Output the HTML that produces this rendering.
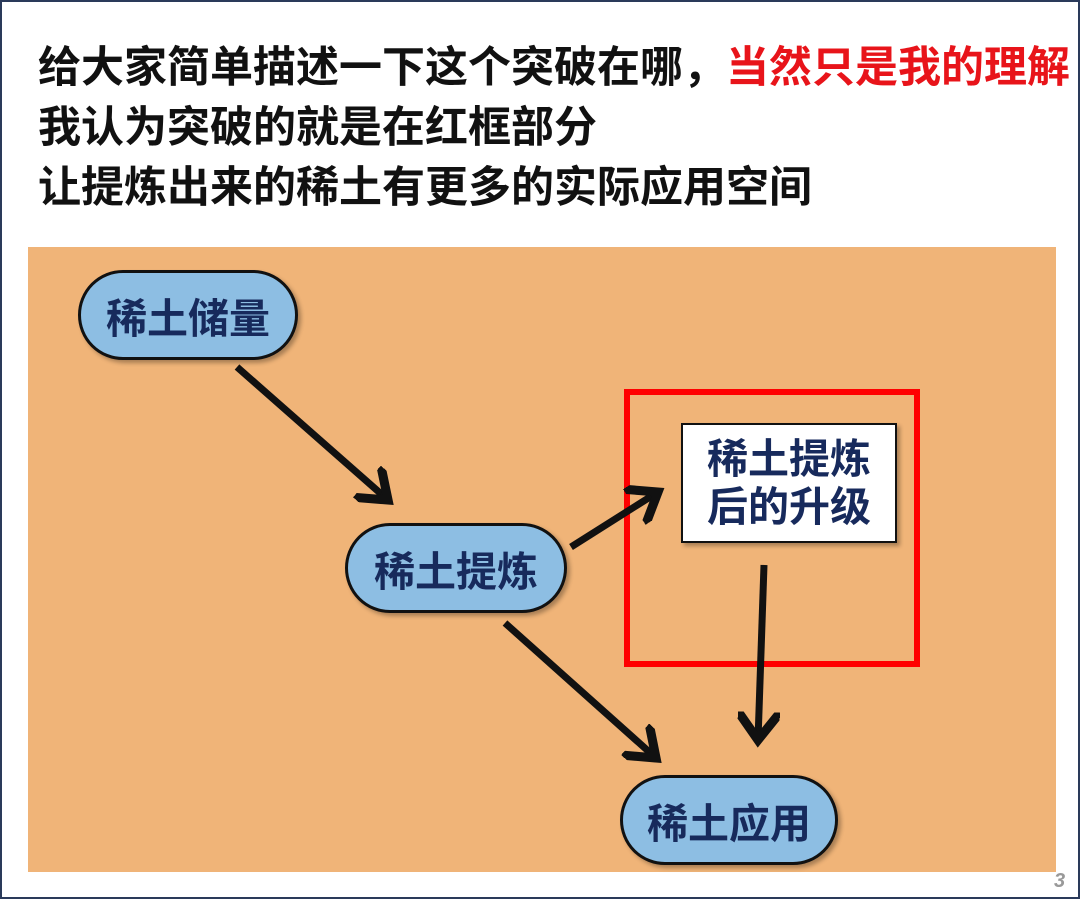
<!DOCTYPE html>
<html><head><meta charset="utf-8"><style>
html,body{margin:0;padding:0}
body{width:1080px;height:899px;position:relative;background:#fff;overflow:hidden;font-family:"Liberation Sans","Noto Sans CJK SC",sans-serif}
.frame{position:absolute;left:0;top:0;width:1076px;height:895px;border:2px solid #2a3a5a}
.t{position:absolute;left:38px;font-size:43px;font-weight:bold;color:#111;white-space:nowrap;line-height:60px}
.bg{position:absolute;left:28px;top:247px;width:1028px;height:625px;background:#F0B478}
.pill{position:absolute;background:#8DBEE3;border:3px solid #111;border-radius:45px;box-sizing:border-box;display:flex;align-items:center;justify-content:center;font-size:41px;font-weight:bold;color:#172a5c;box-shadow:3px 3px 4px rgba(0,0,0,.3)}
.wb{position:absolute;left:681px;top:423px;width:216px;height:120px;background:#fff;border:2px solid #111;box-sizing:border-box;display:flex;align-items:center;justify-content:center;text-align:center;font-size:41px;font-weight:bold;color:#172a5c;line-height:48px;box-shadow:3px 3px 4px rgba(0,0,0,.3)}
.red{position:absolute;left:624px;top:389px;width:296px;height:278px;border:6px solid #f00;box-sizing:border-box}
</style></head><body>
<div class="frame"></div>
<div class="t" style="top:38px">给大家简单描述一下这个突破在哪，<span style="color:#e8141a">当然只是我的理解</span></div>
<div class="t" style="top:98px">我认为突破的就是在红框部分</div>
<div class="t" style="top:158px">让提炼出来的稀土有更多的实际应用空间</div>
<div class="bg"></div>
<div class="red"></div>
<svg style="position:absolute;left:0;top:0" width="1080" height="899">
<defs><marker id="a" markerWidth="6" markerHeight="6" refX="4" refY="3" orient="auto" markerUnits="strokeWidth"><path d="M0,0 L4,3 L0,6" fill="none" stroke="#111" stroke-width="1.3"/></marker></defs>
<g stroke="#111" stroke-width="7" fill="none" marker-end="url(#a)">
<line x1="237" y1="367" x2="388" y2="500"/>
<line x1="571" y1="547" x2="658" y2="492"/>
<line x1="505" y1="623" x2="656" y2="758"/>
<line x1="764" y1="565" x2="758" y2="740"/>
</g></svg>
<div class="pill" style="left:78px;top:270px;width:220px;height:90px">稀土储量</div>
<div class="pill" style="left:345px;top:523px;width:222px;height:90px">稀土提炼</div>
<div class="pill" style="left:620px;top:775px;width:218px;height:90px">稀土应用</div>
<div class="wb">稀土提炼<br>后的升级</div>
<div style="position:absolute;left:1054px;top:870px;font-size:20px;font-style:italic;font-weight:bold;color:#999">3</div>
</body></html>
